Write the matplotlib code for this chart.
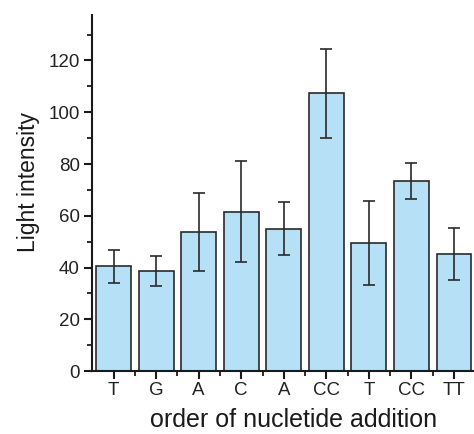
import matplotlib
matplotlib.use("Agg")
import matplotlib.pyplot as plt
import numpy as np

categories = ["T", "G", "A", "C", "A", "CC", "T", "CC", "TT"]
values = [40.5, 38.5, 53.7, 61.6, 55.0, 107.4, 49.5, 73.4, 45.3]
errors = [6.3, 5.8, 15.0, 19.5, 10.3, 17.2, 16.2, 7.0, 10.0]

plt.rcParams['font.family'] = ['Liberation Sans', 'DejaVu Sans']

fig = plt.figure(figsize=(4.74, 4.34), dpi=100)
ax = fig.add_axes([0.1947, 0.145, 0.808, 0.820])

x = np.arange(1, len(categories) + 1)
ax.bar(x, values, width=0.82, color='#b5e0f5', edgecolor='#2a2a2a', linewidth=1.2,
       yerr=errors, capsize=4.5,
       error_kw=dict(ecolor='#2a2a2a', elinewidth=1.2, capthick=1.2), zorder=2)

ax.set_xlim(0.5, 9.5)
ax.set_ylim(0, 137.5)
ax.set_xticks(x)
ax.set_xticklabels(categories)
ax.set_xticks(np.arange(1.5, 9.5, 1), minor=True)
ax.set_yticks(np.arange(0, 121, 20))
ax.set_yticks(np.arange(10, 131, 20), minor=True)

for s in ['top', 'right']:
    ax.spines[s].set_visible(False)
for s in ['left', 'bottom']:
    ax.spines[s].set_linewidth(1.5)
    ax.spines[s].set_color('#1a1a1a')

ax.tick_params(axis='both', which='major', direction='out', length=6, width=1.5,
               labelsize=13.5, color='#1a1a1a', labelcolor='#222222')
ax.tick_params(axis='both', which='minor', direction='out', length=3.5, width=1.3,
               color='#1a1a1a')
ax.tick_params(axis='x', which='major', pad=2)
ax.tick_params(axis='y', which='major', pad=3)

ax.set_ylabel("Light intensity", fontsize=16.5, color='#1a1a1a', labelpad=6)
ax.set_xlabel("order of nucletide addition", fontsize=18, color='#1a1a1a', labelpad=6)
ax.yaxis.label.set_y(0.53)
ax.xaxis.label.set_x(0.525)

fig.savefig("out.png", dpi=100)
